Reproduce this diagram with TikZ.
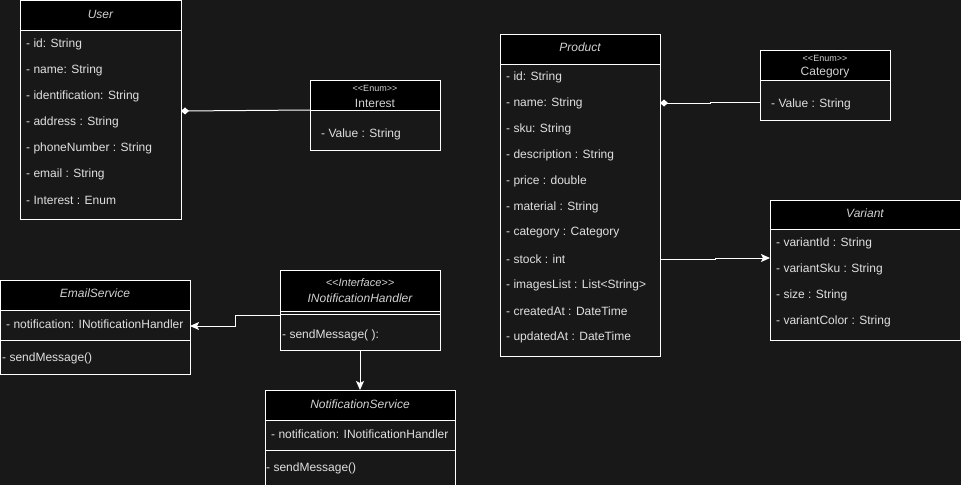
\documentclass[tikz,border=0pt]{standalone}
\usepackage{fontspec}
\setmainfont{Liberation Sans}[Ligatures=TeXOff]
\usetikzlibrary{arrows.meta,calc}
\definecolor{canvas}{RGB}{24,24,24}
\definecolor{ink}{RGB}{224,224,224}
\definecolor{headink}{RGB}{210,210,210}

% class box: name, left, top, width, height, header height
\newcommand\classbox[6]{%
  \fill[black] (#2,#3) rectangle ++(#4,#6);
  \node[frame, minimum width=#4, minimum height=#5] (#1) at (#2,#3) {};
  \draw[white, line width=1pt] (#2,#3+#6) -- ++(#4,0);
}

\begin{document}
\begin{tikzpicture}[x=1pt, y=-1pt,
  font=\fontsize{12}{14}\selectfont,
  frame/.style={draw=white, line width=1pt, fill=none, inner sep=0pt,
                outer sep=0pt, anchor=north west},
  row/.style={text=ink, anchor=west, inner sep=0pt},
  title/.style={text=headink, inner sep=0pt, font=\fontsize{12}{14}\selectfont\itshape},
  stereo/.style={text=headink, inner sep=0pt, font=\fontsize{9}{10}\selectfont},
  enumname/.style={text=headink, inner sep=0pt},
  link/.style={draw=white, line width=1pt},
  owns/.style={link, {Diamond[length=8pt,width=7pt,fill=white]}-},
  points/.style={link, -{Stealth[length=9pt,width=8pt,inset=2pt,fill=white]}},
]
\fill[canvas] (0,0) rectangle (961,485);
\useasboundingbox (0,0) rectangle (961,485);

% User
\classbox{user}{20}{0}{161}{219}{30}
\node[title] (user-t) at (100.5,14) {User};
\foreach \t [count=\i] in {- id: String, - name: String, - identification: String,
  - address : String, - phoneNumber : String, - email : String, - Interest : Enum}
  \node[row] (user-\i) at (26,{44+26*(\i-1)}) {\t};

% Interest enum
\classbox{interest}{310}{80}{130}{70}{30}
\node[stereo] (interest-s) at (375,88) {<<Enum>>};
\node[enumname] (interest-t) at (375,103) {Interest};
\node[row] (interest-1) at (321,134) {- Value : String};

% Product
\classbox{product}{500}{34}{160}{322}{30}
\node[title] (product-t) at (580,47) {Product};
\foreach \t [count=\i] in {- id: String, - name: String, - sku: String,
  - description : String, - price : double, - material : String,
  - category : Category, - stock : int, - imagesList : List<String>,
  - createdAt : DateTime, - updatedAt : DateTime}
  \node[row] (product-\i) at (506,{77+26*(\i-1)}) {\t};

% Category enum
\classbox{category}{760}{50}{130}{70}{30}
\node[stereo] (category-s) at (825,58) {<<Enum>>};
\node[enumname] (category-t) at (825,73) {Category};
\node[row] (category-1) at (771,104) {- Value : String};

% Variant
\classbox{variant}{770}{200}{190.5}{140}{29}
\node[title] (variant-t) at (865,213) {Variant};
\foreach \t [count=\i] in {- variantId : String, - variantSku : String,
  - size : String, - variantColor : String}
  \node[row] (variant-\i) at (776,{243+26*(\i-1)}) {\t};

% EmailService
\classbox{email}{0}{280}{190}{94}{30}
\node[title] (email-t) at (95,293) {EmailService};
\node[row] (email-1) at (6,324) {- notification: INotificationHandler};
\draw[white, line width=1pt] (0,340) -- (190,340);
\node[row] (email-2) at (2,358) {- sendMessage()};

% INotificationHandler interface
\classbox{inh}{280}{270}{160}{80}{41}
\draw[white, line width=1pt] (280,314) -- (440,314);
\node[title, font=\fontsize{11}{13}\selectfont\itshape] (inh-s) at (360,283) {<<Interface>>};
\node[title] (inh-t) at (360,298) {INotificationHandler};
\node[row] (inh-1) at (282,335) {- sendMessage( ):};

% NotificationService
\classbox{notif}{265}{390}{190}{96}{30}
\node[title] (notif-t) at (360,404) {NotificationService};
\node[row] (notif-1) at (271,434) {- notification: INotificationHandler};
\draw[white, line width=1pt] (265,450) -- (455,450);
\node[row] (notif-2) at (266,468) {- sendMessage()};

% Connectors
\draw[owns] ($(user.north east)+(0,111)$) -- ($(interest.north west)+(0,30)$);
\draw[owns] ($(product.north east)+(0,69)$) -- ++(50,0) |- ($(category.north west)+(0,52)$);
\draw[points] ($(product.north east)+(0,225)$) -- ++(55,0) |- ($(variant.north west)+(0,58)$);
\draw[points] ($(inh.north west)+(0,45)$) -- ++(-45,0) |- ($(email.north east)+(0,46)$);
\draw[points] (inh.south) -- (notif.north);
\end{tikzpicture}
\end{document}
